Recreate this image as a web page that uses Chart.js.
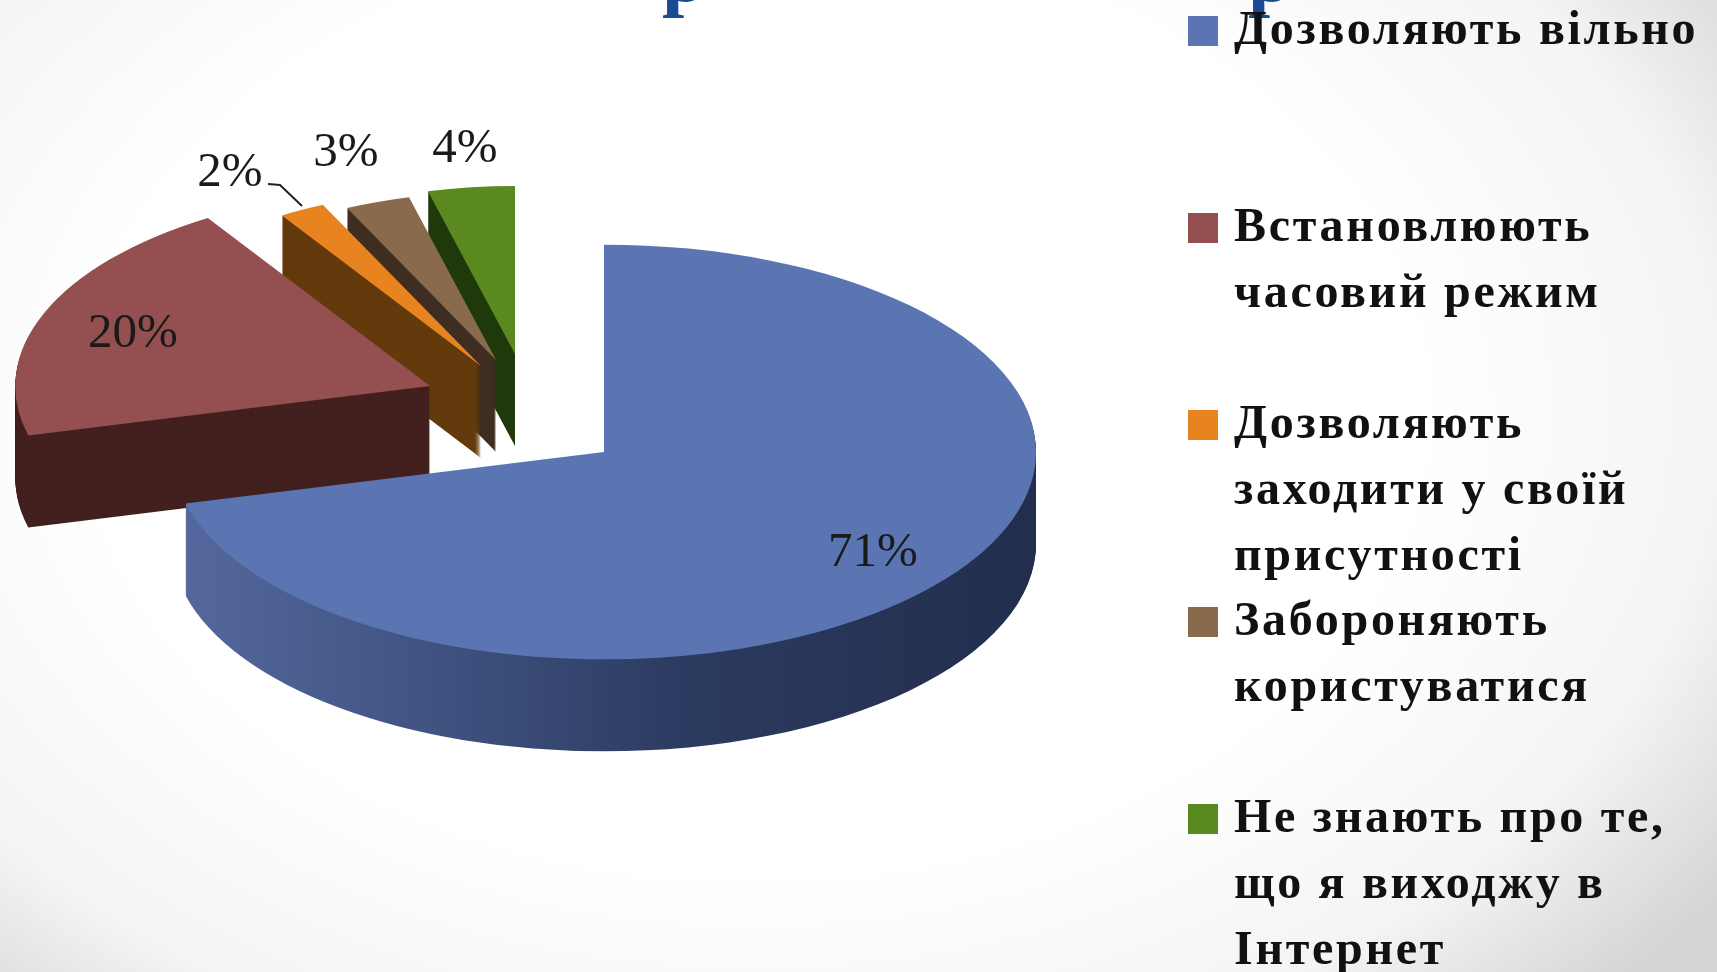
<!DOCTYPE html>
<html>
<head>
<meta charset="utf-8">
<script src="https://cdn.jsdelivr.net/npm/chart.js@4/dist/chart.umd.min.js"></script>
<style>
    html, body { margin: 0; height: 100%; overflow: hidden; }
    body {
        width: 1717px; height: 972px; position: relative;
        background: radial-gradient(ellipse 1180px 830px at 44% 42%, #ffffff 56%, #f4f4f4 82%, #d6d6d6 100%);
    }
    canvas { position: absolute; left: 0; top: 0; }
    .title-bit { position: absolute; top: -66px; font: bold 80px "Liberation Serif", serif; color: #1b4a94; line-height: 1; }
    .item { position: absolute; left: 1234px; font: bold 48px/66px "Liberation Serif", serif; letter-spacing: 2.7px; color: #111; white-space: nowrap; }
    .box { position: absolute; left: 1188px; width: 30px; height: 30px; }
</style>
</head>
<body>
<canvas id="pie" width="1717" height="972"></canvas>
<span class="title-bit" style="left:662px">р</span>
<span class="title-bit" style="left:1248px">р</span>
<div id="legend"></div>
<script>
    const categories = [
        ['Дозволяють вільно'],
        ['Встановлюють', 'часовий режим'],
        ['Дозволяють', 'заходити у своїй', 'присутності'],
        ['Забороняють', 'користуватися'],
        ['Не знають про те,', 'що я виходжу в', 'Інтернет']
    ];
    const shares = [71, 20, 2, 3, 4];

    // styling of the slices
    const topColors = ['#5a75b1', '#944f50', '#e8841f', '#8a6a4c', '#5a8a1f'];
    const wallColors = ['#2f3e66', '#43201f', '#633a0b', '#3e2d20', '#213a0c'];
    const pullX = [0, -174, -123, -108, -89];
    const pullY = [0, -66, -86, -92, -98];
    const radiusScale = [1, 0.96, 0.86, 0.81, 0.81];
    const labelX = [873, 133, 230, 346, 465];
    const labelY = [553, 334, 173, 153, 149];
    const legendTop = [31, 228, 425, 622, 819];
    const squash = 0.48;
    const depth = 92;

    // legend is plain html, the entries are not evenly wrapped
    const legend = document.getElementById('legend');
    categories.forEach((lines, i) => {
        const box = document.createElement('div');
        box.className = 'box';
        box.style.top = (legendTop[i] - 15) + 'px';
        box.style.background = topColors[i];
        legend.appendChild(box);
        lines.forEach((line, n) => {
            const row = document.createElement('div');
            row.className = 'item';
            row.style.top = (legendTop[i] - 36 + n * 66) + 'px';
            row.textContent = line;
            legend.appendChild(row);
        });
    });

    const fakeDepth = {
        id: 'fakeDepth',
        afterDatasetsUpdate(chart) {
            const arcs = chart.getDatasetMeta(0).data;
            arcs.forEach((arc, i) => {
                arc.x += pullX[i];
                arc.y += pullY[i] / squash;
                arc.outerRadius *= radiusScale[i];
            });
        },
        beforeDatasetsDraw(chart) {
            const ctx = chart.ctx;
            const arcs = chart.getDatasetMeta(0).data;
            const cy = (chart.chartArea.top + chart.chartArea.bottom) / 2;
            ctx.save();
            ctx.translate(0, cy);
            ctx.scale(1, squash);
            ctx.translate(0, -cy);

            // back to front, blue wall last
            [4, 3, 2, 1, 0].forEach(i => {
                const arc = arcs[i];
                let fill = wallColors[i];
                if (i === 0) {
                    fill = ctx.createLinearGradient(arc.x - arc.outerRadius, 0, arc.x + arc.outerRadius, 0);
                    fill.addColorStop(0, '#55699f');
                    fill.addColorStop(0.35, '#3c4f7c');
                    fill.addColorStop(0.6, '#2b3a5f');
                    fill.addColorStop(1, '#232e4e');
                }
                ctx.fillStyle = fill;
                for (let d = depth; d > 0; d--) {
                    ctx.beginPath();
                    ctx.moveTo(arc.x, arc.y + d / squash);
                    ctx.arc(arc.x, arc.y + d / squash, arc.outerRadius, arc.startAngle, arc.endAngle);
                    ctx.closePath();
                    ctx.fill();
                }
            });
        },
        afterDatasetsDraw(chart) {
            chart.ctx.restore();
        },
        afterDraw(chart) {
            const ctx = chart.ctx;
            ctx.save();
            ctx.font = '49px "Liberation Serif", serif';
            ctx.fillStyle = '#1a1a1a';
            ctx.textAlign = 'center';
            ctx.textBaseline = 'middle';
            shares.forEach((v, i) => ctx.fillText(v + '%', labelX[i], labelY[i]));
            // leader of the 2% label
            ctx.strokeStyle = '#222';
            ctx.lineWidth = 2;
            ctx.beginPath();
            ctx.moveTo(268, 184);
            ctx.lineTo(280, 185);
            ctx.lineTo(302, 206);
            ctx.stroke();
            ctx.restore();
        }
    };

    new Chart(document.getElementById('pie').getContext('2d'), {
        type: 'pie',
        data: {
            labels: categories.map(lines => lines.join(' ')),
            datasets: [{ data: shares, backgroundColor: topColors, borderWidth: 0 }]
        },
        options: {
            responsive: false,
            animation: false,
            layout: { padding: { left: 172, right: 681, top: 20, bottom: 88 } },
            plugins: { legend: { display: false }, tooltip: { enabled: false } }
        },
        plugins: [fakeDepth]
    });
</script>
</body>
</html>
